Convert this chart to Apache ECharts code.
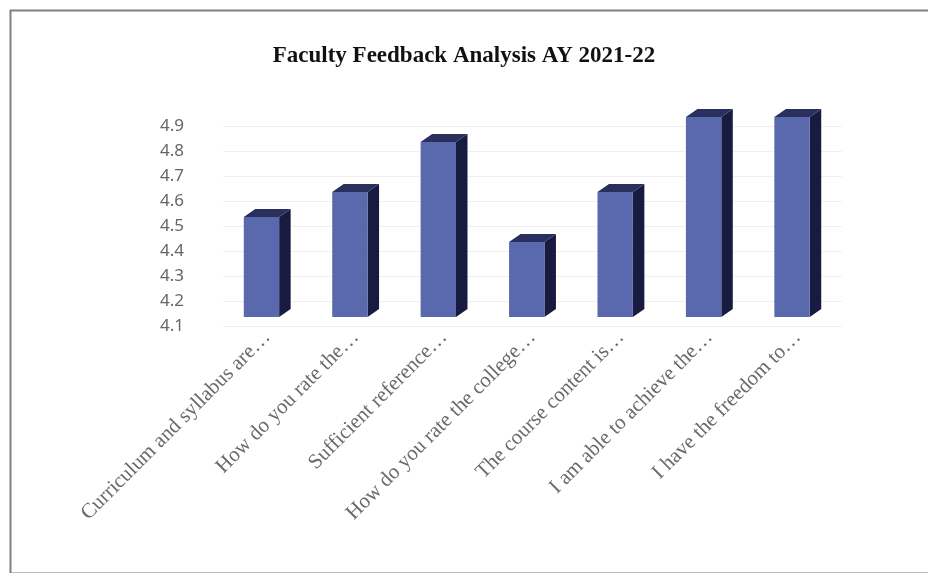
<!DOCTYPE html>
<html>
<head>
<meta charset="utf-8">
<script src="https://cdn.jsdelivr.net/npm/echarts@6/dist/echarts.min.js"></script>
<style>
html,body{margin:0;padding:0;background:#fff;}
#chart{width:928px;height:573px;}
</style>
</head>
<body>
<div id="chart"></div>
<script>
// ---- data ----
const chartTitle = "Faculty Feedback Analysis AY 2021-22";
const categories = [
  "Curriculum and syllabus are…",
  "How do you rate the…",
  "Sufficient reference…",
  "How do you rate the college…",
  "The course content is…",
  "I am able to achieve the…",
  "I have the freedom to…"
];
const scores = [4.5, 4.6, 4.8, 4.4, 4.6, 4.9, 4.9];
const yMin = 4.1, yMax = 4.9, yStep = 0.1;

// ---- style constants for the pseudo-3D bars ----
const FRONT_FRAC = 0.40;   // front face width as share of category band
const DEPTH_FRAC = 0.13;   // depth (side) width as share of band
const DEPTH_DY = 8;        // vertical shift of the back edge (px)
const LIFT = 9;            // front face raised above the axis line (px)

const chart = echarts.init(document.getElementById('chart'), null, {renderer:'canvas'});

function renderBar(params, api) {
  const idx = api.value(0);
  const v = api.value(1);
  const top = api.coord([idx, v]);
  const bot = api.coord([idx, yMin]);
  const band = api.size([1, 0])[0];
  const fw = band * FRONT_FRAC, dw = band * DEPTH_FRAC;
  const x0 = top[0] - (fw + dw) / 2;
  const x1 = x0 + fw;
  const yt = top[1] - LIFT;
  const yb = bot[1] - LIFT;
  return {
    type: 'group',
    children: [
      { type: 'polygon', shape: { points: [[x1, yt], [x1 + dw, yt - DEPTH_DY], [x1 + dw, yb - DEPTH_DY], [x1, yb]] },
        style: { fill: '#171b40' } },
      { type: 'polygon', shape: { points: [[x0, yt], [x1, yt], [x1 + dw, yt - DEPTH_DY], [x0 + dw, yt - DEPTH_DY]] },
        style: { fill: '#2a305e' } },
      { type: 'rect', shape: { x: x0, y: yt, width: fw, height: yb - yt },
        style: { fill: '#5a69ad' } }
    ]
  };
}

chart.setOption({
  animation: false,
  backgroundColor: '#fff',
  title: {
    text: chartTitle,
    left: 'center',
    top: 40,
    textStyle: { fontFamily: 'Liberation Serif', fontWeight: 'bold', fontSize: 23, color: '#111' }
  },
  graphic: [{
    type: 'rect', left: 8, top: 8, silent: true,
    shape: { x: 0, y: 0, width: 940, height: 563 },
    style: { fill: 'none', stroke: '#808080', lineWidth: 2 }
  }],
  grid: { left: 223, right: 86, top: 126, height: 200 },
  xAxis: {
    type: 'category',
    data: categories,
    axisLine: { show: false },
    axisTick: { show: false },
    axisLabel: {
      interval: 0, rotate: 45, margin: 8,
      fontFamily: 'Liberation Serif', fontSize: 21, color: '#6a6a6a'
    }
  },
  yAxis: {
    type: 'value',
    min: yMin, max: yMax, interval: yStep,
    axisLine: { show: false },
    axisTick: { show: false },
    axisLabel: {
      margin: 39, fontFamily: 'Noto Sans', fontSize: 17, color: '#666',
      formatter: v => v.toFixed(1)
    },
    splitLine: { lineStyle: { color: '#f0f0f0', width: 1 } }
  },
  series: [{
    type: 'custom',
    clip: false,
    renderItem: renderBar,
    encode: { x: 0, y: 1 },
    data: scores.map((v, i) => [i, v])
  }]
});
</script>
</body>
</html>
